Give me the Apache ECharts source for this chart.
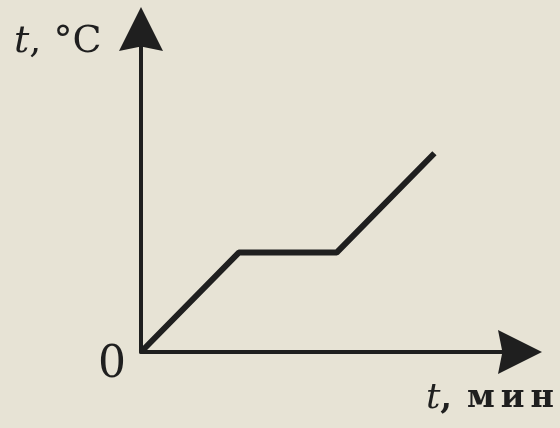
<!DOCTYPE html>
<html>
<head>
<meta charset="utf-8">
<script src="https://cdn.jsdelivr.net/npm/echarts@6/dist/echarts.min.js"></script>
<style>
  html, body { margin: 0; padding: 0; background: #e7e3d5; }
  #chart { width: 560px; height: 428px; }
</style>
</head>
<body>
<div id="chart"></div>
<script>
  // heating curve: time (min) vs temperature
  const timeMin = [0, 2, 4, 6];
  const tempC = [0, 2, 2, 4];
  const xMax = 7.75;
  const yMax = 6.5;

  const ink = '#1f1f1f';
  const serif = 'DejaVu Serif';
  // solid arrowhead with a shallow notch at the back (centred on the axis end)
  const arrowHead = 'path://M50,0 L100,100 L50,90 L0,100 Z';

  let chart = echarts.init(document.getElementById('chart'));
  let axisBase = {
    type: 'value',
    min: 0,
    axisTick: { show: false },
    axisLabel: { show: false },
    splitLine: { show: false }
  };
  chart.setOption({
    backgroundColor: '#e7e3d5',
    animation: false,
    grid: { left: 141, top: 29, right: 40, bottom: 76 },
    xAxis: Object.assign({}, axisBase, {
      max: xMax,
      axisLine: {
        show: true,
        symbol: ['none', arrowHead],
        symbolSize: [44, 46],
        lineStyle: { color: ink, width: 4 }
      }
    }),
    yAxis: Object.assign({}, axisBase, {
      max: yMax,
      axisLine: {
        show: true,
        symbol: ['none', arrowHead],
        symbolSize: [46, 44],
        lineStyle: { color: ink, width: 4 }
      }
    }),
    series: [{
      type: 'line',
      data: timeMin.map((t, i) => [t, tempC[i]]),
      showSymbol: false,
      lineStyle: { color: ink, width: 6 }
    }],
    graphic: [
      {
        type: 'text', x: 14, y: 42,
        style: {
          text: '{i|t}, °C',
          verticalAlign: 'middle',
          font: '38px ' + serif,
          fill: ink,
          rich: { i: { fontStyle: 'italic', fontFamily: serif, fontSize: 38 } }
        }
      },
      {
        type: 'text', x: 112, y: 366,
        style: {
          text: '0', align: 'center', verticalAlign: 'middle',
          font: '44px ' + serif, fill: ink
        }
      },
      {
        type: 'text', x: 557, y: 399,
        style: {
          text: '{i|t}{b|, }{c|м}{c|и}{c|н}', align: 'right', verticalAlign: 'middle',
          font: 'bold 32px ' + serif, fill: ink,
          rich: {
            i: { fontStyle: 'italic', fontFamily: serif, fontSize: 36, fontWeight: 'normal' },
            b: { fontFamily: serif, fontSize: 34, fontWeight: 'bold' },
            c: { fontFamily: serif, fontSize: 32, fontWeight: 'bold', padding: [0, 3] }
          }
        }
      }
    ]
  });
</script>
</body>
</html>
